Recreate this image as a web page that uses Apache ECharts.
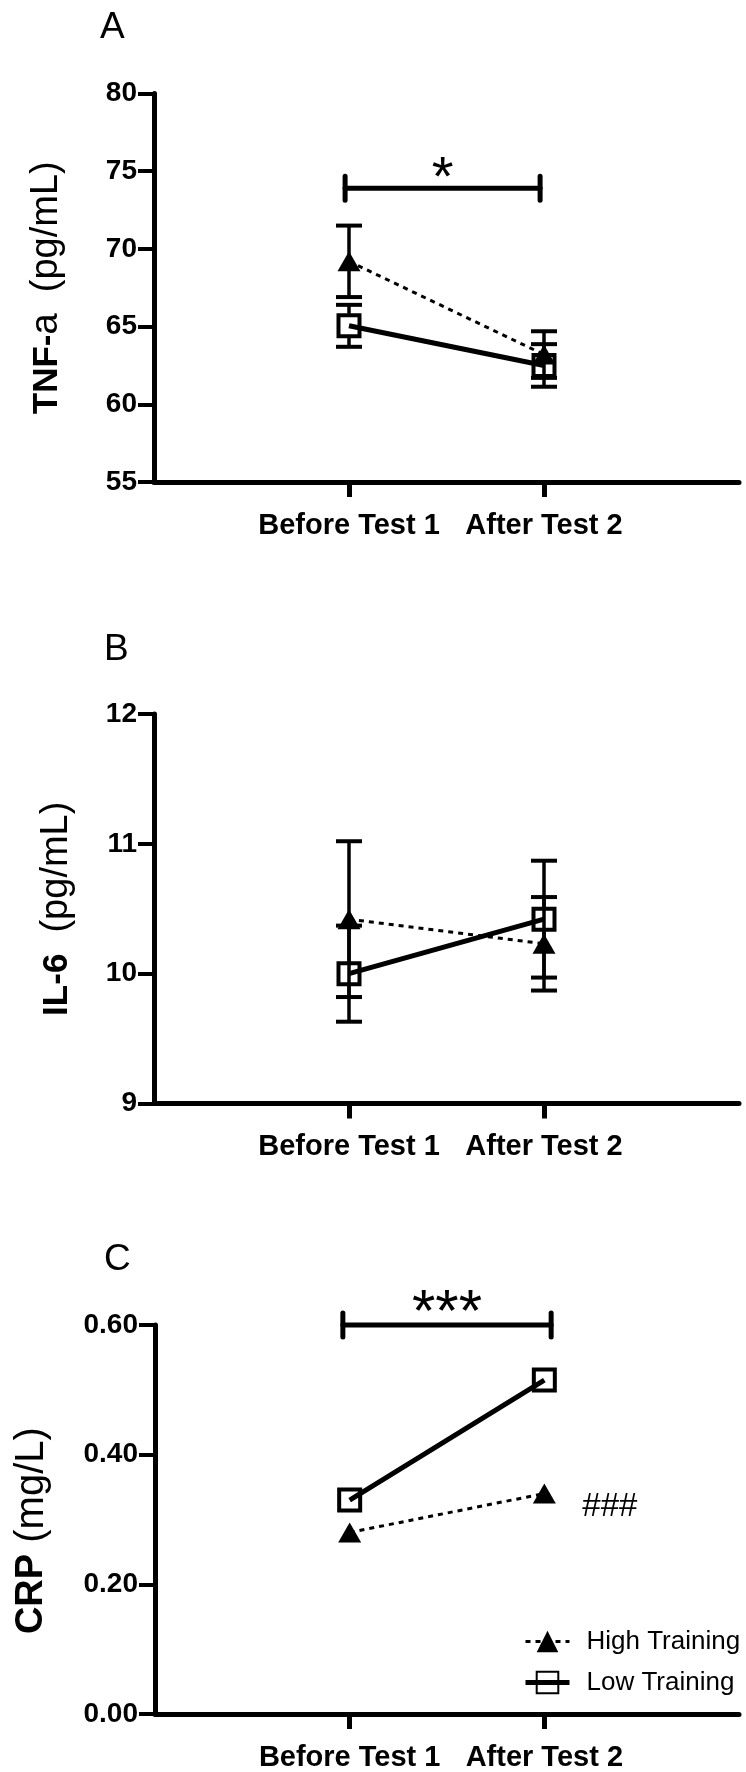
<!DOCTYPE html>
<html>
<head>
<meta charset="utf-8">
<script src="https://cdn.jsdelivr.net/npm/echarts@6/dist/echarts.min.js"></script>
<style>
html,body{margin:0;padding:0;background:#fff;}
#chart{width:746px;height:1772px;}
</style>
</head>
<body>
<div id="chart"></div>
<script>
// ---- data ----
const categories = ['Before Test 1', 'After Test 2'];
const catX = [1, 2];

const tnfHigh = [69.2, 63.2];
const tnfHighSem = [2.3, 1.5];
const tnfLow = [65.05, 62.5];
const tnfLowSem = [1.35, 1.37];

const il6High = [10.42, 10.23];
const il6HighSem = [0.6, 0.36];
const il6Low = [10.0, 10.42];
const il6LowSem = [0.37, 0.45];

const crpHigh = [0.28, 0.34];
const crpLow = [0.33, 0.515];

const tnfTicks = { min: 55, max: 80, interval: 5 };
const il6Ticks = { min: 9, max: 12, interval: 1 };
const crpTicks = { min: 0, max: 0.6, interval: 0.2 };

const sigA = { from: 0.98, to: 1.98, y: 73.9, text: '*' };
const sigC = { from: 0.965, to: 2.035, y: 0.60, text: '***' };
const hashC = { x: 2, y: 0.32, text: '###' };

const panelLetters = ['A', 'B', 'C'];
const yTitles = [
  '{b|TNF-}{r|a  (pg/mL)}',
  '{b|IL-6}{r|  (pg/mL)}',
  '{b2|CRP}{r2| (mg/L)  }'
];
const seriesNames = ['High Training', 'Low Training'];

// ---- styles / layout ----
const FONT = 'Liberation Sans, Arial, Helvetica, sans-serif';
const grids = [
  { left: 154, width: 585, top: 93.5, height: 388.5 },
  { left: 154, width: 585, top: 714, height: 389.5 },
  { left: 155, width: 584, top: 1325, height: 389 }
];
const nameGaps = [88, 78, 103];
const letterPos = [{ left: 95, top: 4 }, { left: 99, top: 626 }, { left: 99, top: 1236 }];
const sigStyle = [{ size: 56, dy: -9 }, { size: 60, dy: -11 }];

function pts(vals) { return vals.map((v, i) => [catX[i], v]); }
function errPts(vals, sem) { return vals.map((v, i) => [catX[i], v, sem[i]]); }

function errRender(hideHalf) {
  return function (params, api) {
    const x = api.value(0), m = api.value(1), s = api.value(2);
    const pm = api.coord([x, m]);
    const pt = api.coord([x, m + s]);
    const pb = api.coord([x, m - s]);
    const cw = 13;
    const st = { stroke: '#000', lineWidth: 3.5 };
    const ch = [];
    const yTop = pm[1] - hideHalf, yBot = pm[1] + hideHalf;
    if (pt[1] < yTop) ch.push({ type: 'line', shape: { x1: pm[0], y1: yTop, x2: pm[0], y2: pt[1] }, style: st });
    if (pb[1] > yBot) ch.push({ type: 'line', shape: { x1: pm[0], y1: yBot, x2: pm[0], y2: pb[1] }, style: st });
    ch.push({ type: 'line', shape: { x1: pm[0] - cw, y1: pt[1], x2: pm[0] + cw, y2: pt[1] }, style: { stroke: '#000', lineWidth: 4 } });
    ch.push({ type: 'line', shape: { x1: pm[0] - cw, y1: pb[1], x2: pm[0] + cw, y2: pb[1] }, style: { stroke: '#000', lineWidth: 4 } });
    return { type: 'group', children: ch };
  };
}

function makeSigRender(sty) {
  return function (params, api) {
    const a = api.coord([api.value(0), api.value(2)]);
    const b = api.coord([api.value(1), api.value(2)]);
    const txt = api.value(3);
    const st = { stroke: '#000', lineWidth: 5, lineCap: 'round' };
    return {
      type: 'group',
      children: [
        { type: 'line', shape: { x1: a[0], y1: a[1], x2: b[0], y2: b[1] }, style: st },
        { type: 'line', shape: { x1: a[0], y1: a[1] - 12, x2: a[0], y2: a[1] + 12 }, style: st },
        { type: 'line', shape: { x1: b[0], y1: b[1] - 12, x2: b[0], y2: b[1] + 12 }, style: st },
        { type: 'text', x: (a[0] + b[0]) / 2, y: a[1] + sty.dy,
          style: { text: txt, fill: '#000', font: 'normal ' + sty.size + 'px ' + FONT, textAlign: 'center', textVerticalAlign: 'middle' } }
      ]
    };
  };
}

function hashRender(params, api) {
  const p = api.coord([api.value(0), api.value(1)]);
  return { type: 'text', x: p[0] + 38, y: p[1],
    style: { text: api.value(2), fill: '#000', font: 'normal 33px ' + FONT, textAlign: 'left', textVerticalAlign: 'middle' } };
}

const ticksList = [tnfTicks, il6Ticks, crpTicks];
const xAxes = [], yAxes = [], series = [], titles = [];

for (let i = 0; i < 3; i++) {
  xAxes.push({
    type: 'value', gridIndex: i, min: 0, max: 3,
    axisLine: { show: true, onZero: false, lineStyle: { color: '#000', width: 5 } },
    axisTick: { show: true, customValues: catX, length: 15, lineStyle: { color: '#000', width: 5 } },
    axisLabel: { show: true, customValues: catX, formatter: v => categories[Math.round(v) - 1] || '',
      color: '#000', fontSize: 29, fontWeight: 'bold', fontFamily: FONT, margin: 29 },
    splitLine: { show: false }
  });
  const t = ticksList[i];
  yAxes.push({
    type: 'value', gridIndex: i, min: t.min, max: t.max, interval: t.interval,
    axisLine: { show: true, lineStyle: { color: '#000', width: 5 } },
    axisTick: { show: true, length: 16, lineStyle: { color: '#000', width: 4 } },
    axisLabel: { color: '#000', fontSize: 28, fontWeight: 'bold', fontFamily: FONT, margin: 17,
      formatter: i === 2 ? (v => v.toFixed(2)) : (v => String(v)) },
    splitLine: { show: false },
    name: yTitles[i], nameLocation: 'middle', nameGap: nameGaps[i],
    nameTextStyle: {
      color: '#000', fontFamily: FONT,
      rich: {
        b: { fontSize: 35, fontWeight: 'bold', fontFamily: FONT, color: '#000' },
        r: { fontSize: 38, fontWeight: 'normal', fontFamily: FONT, color: '#000' },
        b2: { fontSize: 38, fontWeight: 'bold', fontFamily: FONT, color: '#000' },
        r2: { fontSize: 40, fontWeight: 'normal', fontFamily: FONT, color: '#000' }
      }
    }
  });
}

const highSets = [tnfHigh, il6High, crpHigh];
const lowSets = [tnfLow, il6Low, crpLow];
const highSems = [tnfHighSem, il6HighSem, null];
const lowSems = [tnfLowSem, il6LowSem, null];

for (let i = 0; i < 3; i++) {
  if (highSems[i]) {
    series.push({ type: 'custom', xAxisIndex: i, yAxisIndex: i, z: 1, silent: true,
      renderItem: errRender(0), data: errPts(highSets[i], highSems[i]), encode: { x: 0, y: 1 } });
    series.push({ type: 'custom', xAxisIndex: i, yAxisIndex: i, z: 1, silent: true,
      renderItem: errRender(12), data: errPts(lowSets[i], lowSems[i]), encode: { x: 0, y: 1 } });
  }
  series.push({
    name: seriesNames[0] + (i === 2 ? '' : ' ' + i),
    type: 'line', xAxisIndex: i, yAxisIndex: i, z: 3, silent: true,
    data: pts(highSets[i]),
    symbol: 'triangle', symbolSize: [23, 20],
    itemStyle: { color: '#000', borderWidth: 0 },
    lineStyle: { color: '#000', width: 3, type: [5, 5] },
    emphasis: { disabled: true }
  });
  series.push({
    name: seriesNames[1] + (i === 2 ? '' : ' ' + i),
    type: 'line', xAxisIndex: i, yAxisIndex: i, z: 2, silent: true,
    data: pts(lowSets[i]),
    symbol: 'rect', symbolSize: 21, showAllSymbol: true,
    itemStyle: { color: 'rgba(255,255,255,0)', borderColor: '#000', borderWidth: 4 },
    lineStyle: { color: '#000', width: 5 },
    emphasis: { disabled: true }
  });
  titles.push({ text: panelLetters[i], left: letterPos[i].left, top: letterPos[i].top,
    textStyle: { fontSize: 37, fontWeight: 'normal', color: '#000', fontFamily: FONT } });
}

series.push({ type: 'custom', xAxisIndex: 0, yAxisIndex: 0, silent: true, renderItem: makeSigRender(sigStyle[0]),
  data: [[sigA.from, sigA.to, sigA.y, sigA.text]], encode: { x: [0, 1], y: 2 } });
series.push({ type: 'custom', xAxisIndex: 2, yAxisIndex: 2, silent: true, renderItem: makeSigRender(sigStyle[1]),
  data: [[sigC.from, sigC.to, sigC.y, sigC.text]], encode: { x: [0, 1], y: 2 } });
series.push({ type: 'custom', xAxisIndex: 2, yAxisIndex: 2, silent: true, renderItem: hashRender,
  data: [[hashC.x, hashC.y, hashC.text]], encode: { x: 0, y: 1 } });

const chart = echarts.init(document.getElementById('chart'), null, { renderer: 'canvas' });
chart.setOption({
  animation: false,
  backgroundColor: '#fff',
  title: titles,
  grid: grids,
  xAxis: xAxes,
  yAxis: yAxes,
  legend: {
    orient: 'vertical', left: 518, top: 1623,
    itemWidth: 44, itemHeight: 27, itemGap: 14,
    selectedMode: false,
    data: seriesNames,
    lineStyle: { width: 'inherit' },
    textStyle: { fontSize: 26, color: '#000', fontFamily: FONT, padding: [0, 0, 0, 12], lineHeight: 27 }
  },
  series: series
});
</script>
</body>
</html>
